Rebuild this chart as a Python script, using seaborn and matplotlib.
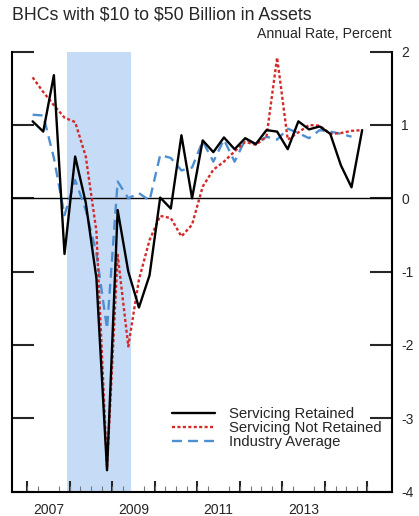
import numpy as np
import pandas as pd
import matplotlib
matplotlib.use("Agg")
import matplotlib.pyplot as plt
import seaborn as sns

# Quarterly growth rates, 2007Q1 - 2014Q4 (annual rate, percent)
quarters = pd.period_range("2007Q1", "2014Q4", freq="Q")
servicing_retained = [1.05, 0.91, 1.68, -0.76, 0.57, -0.06, -1.09, -3.71,
                      -0.16, -1.00, -1.49, -1.05, 0.01, -0.14, 0.86, 0.00,
                      0.79, 0.63, 0.83, 0.67, 0.82, 0.74, 0.93, 0.91,
                      0.67, 1.05, 0.94, 0.98, 0.88, 0.45, 0.15, 0.93]
servicing_not_retained = [1.65, 1.45, 1.27, 1.10, 1.04, 0.57, -0.45, -3.68,
                          -0.77, -2.02, -1.11, -0.57, -0.24, -0.27, -0.52, -0.36,
                          0.16, 0.39, 0.50, 0.64, 0.77, 0.73, 0.84, 1.92,
                          0.80, 0.90, 1.00, 0.99, 0.88, 0.89, 0.92, 0.93]
industry_average = [1.14, 1.13, 0.55, -0.23, 0.25, -0.16, -0.75, -1.78,
                    0.23, 0.00, 0.07, -0.03, 0.59, 0.55, 0.38, 0.42,
                    0.78, 0.50, 0.80, 0.50, 0.80, 0.74, 0.84, 0.80,
                    0.95, 0.89, 0.82, 0.93, 0.91, 0.88, 0.84, np.nan]

recession = (2007.94, 2009.44)
year_labels = ["2007", "2009", "2011", "2013"]
y_ticks = [-4, -3, -2, -1, 0, 1, 2]

# mid-quarter position in fractional years
x = np.array([q.year + (q.quarter - 1) * 0.25 + 0.125 for q in quarters])
df = pd.DataFrame({"date": x,
                   "retained": servicing_retained,
                   "not_retained": servicing_not_retained,
                   "industry": industry_average})

sns.set_style("ticks")
plt.rcParams["font.family"] = ["Liberation Sans", "DejaVu Sans"]
plt.rcParams["axes.unicode_minus"] = False

fig = plt.figure(figsize=(4.19, 5.16), dpi=100)
ax = fig.add_axes([12 / 419, 1 - 491.5 / 516, 379.7 / 419, 439.8 / 516])

ax.axvspan(*recession, color="#c6dcf6", lw=0, zorder=0)
ax.axhline(0, color="black", lw=1.0, zorder=1)

sns.lineplot(data=df, x="date", y="retained", ax=ax, color="black",
             lw=1.7, label="Servicing Retained", zorder=4)
sns.lineplot(data=df, x="date", y="not_retained", ax=ax, color="#d42a2a",
             lw=1.7, label="Servicing Not Retained", zorder=3)
sns.lineplot(data=df, x="date", y="industry", ax=ax, color="#4d8fd0",
             lw=1.7, label="Industry Average", zorder=2)
lines = ax.get_lines()
lines[2].set_dashes((1.3, 1.0))
lines[2].set_dash_capstyle("butt")
lines[3].set_dashes((4.2, 2.6))

ax.set_xlim(2006.64, 2015.57)
ax.set_ylim(-4, 2)
ax.set_xlabel("")
ax.set_ylabel("")

for side in ["left", "right", "bottom"]:
    ax.spines[side].set_linewidth(1.5)
    ax.spines[side].set_color("black")
ax.spines["top"].set_visible(False)

# y axis: long inward ticks on both sides, labels on the right
ax.set_yticks(y_ticks)
ax.set_yticklabels([str(v) for v in y_ticks])
ax.tick_params(axis="y", which="major", left=True, right=True,
               labelleft=False, labelright=True, direction="in",
               length=16, width=1.5, pad=7, labelsize=10)

# x axis: labels centred in odd years, quarter minor ticks, year ticks
ax.set_xticks([int(y) + 0.5 for y in year_labels])
ax.set_xticklabels(year_labels)
ax.set_xticks(np.arange(2007, 2015.01, 0.25), minor=True)
ax.tick_params(axis="x", which="major", length=0, pad=8, labelsize=10)
ax.tick_params(axis="x", which="minor", direction="in", length=4.5,
               width=0.8, color="#777777")
sec = ax.secondary_xaxis("bottom")
sec.set_xticks(np.arange(2007, 2016, 1))
sec.set_xticklabels([])
sec.tick_params(axis="x", direction="in", length=8, width=1.5)
sec.spines["bottom"].set_visible(False)

leg = ax.legend(loc="upper left", bbox_to_anchor=(0.421, 0.192),
                frameon=False, fontsize=10.7, handlelength=2.9,
                handletextpad=0.96, labelspacing=0.0, borderpad=0,
                borderaxespad=0)

fig.text(12 / 419, 1 - 15 / 516, r"BHCs with \$10 to \$50 Billion in Assets",
         fontsize=12.8, ha="left", va="center")
fig.text(391.7 / 419, 1 - 34.5 / 516, "Annual Rate, Percent",
         fontsize=10.2, ha="right", va="center")

fig.savefig("out.png", dpi=100)
